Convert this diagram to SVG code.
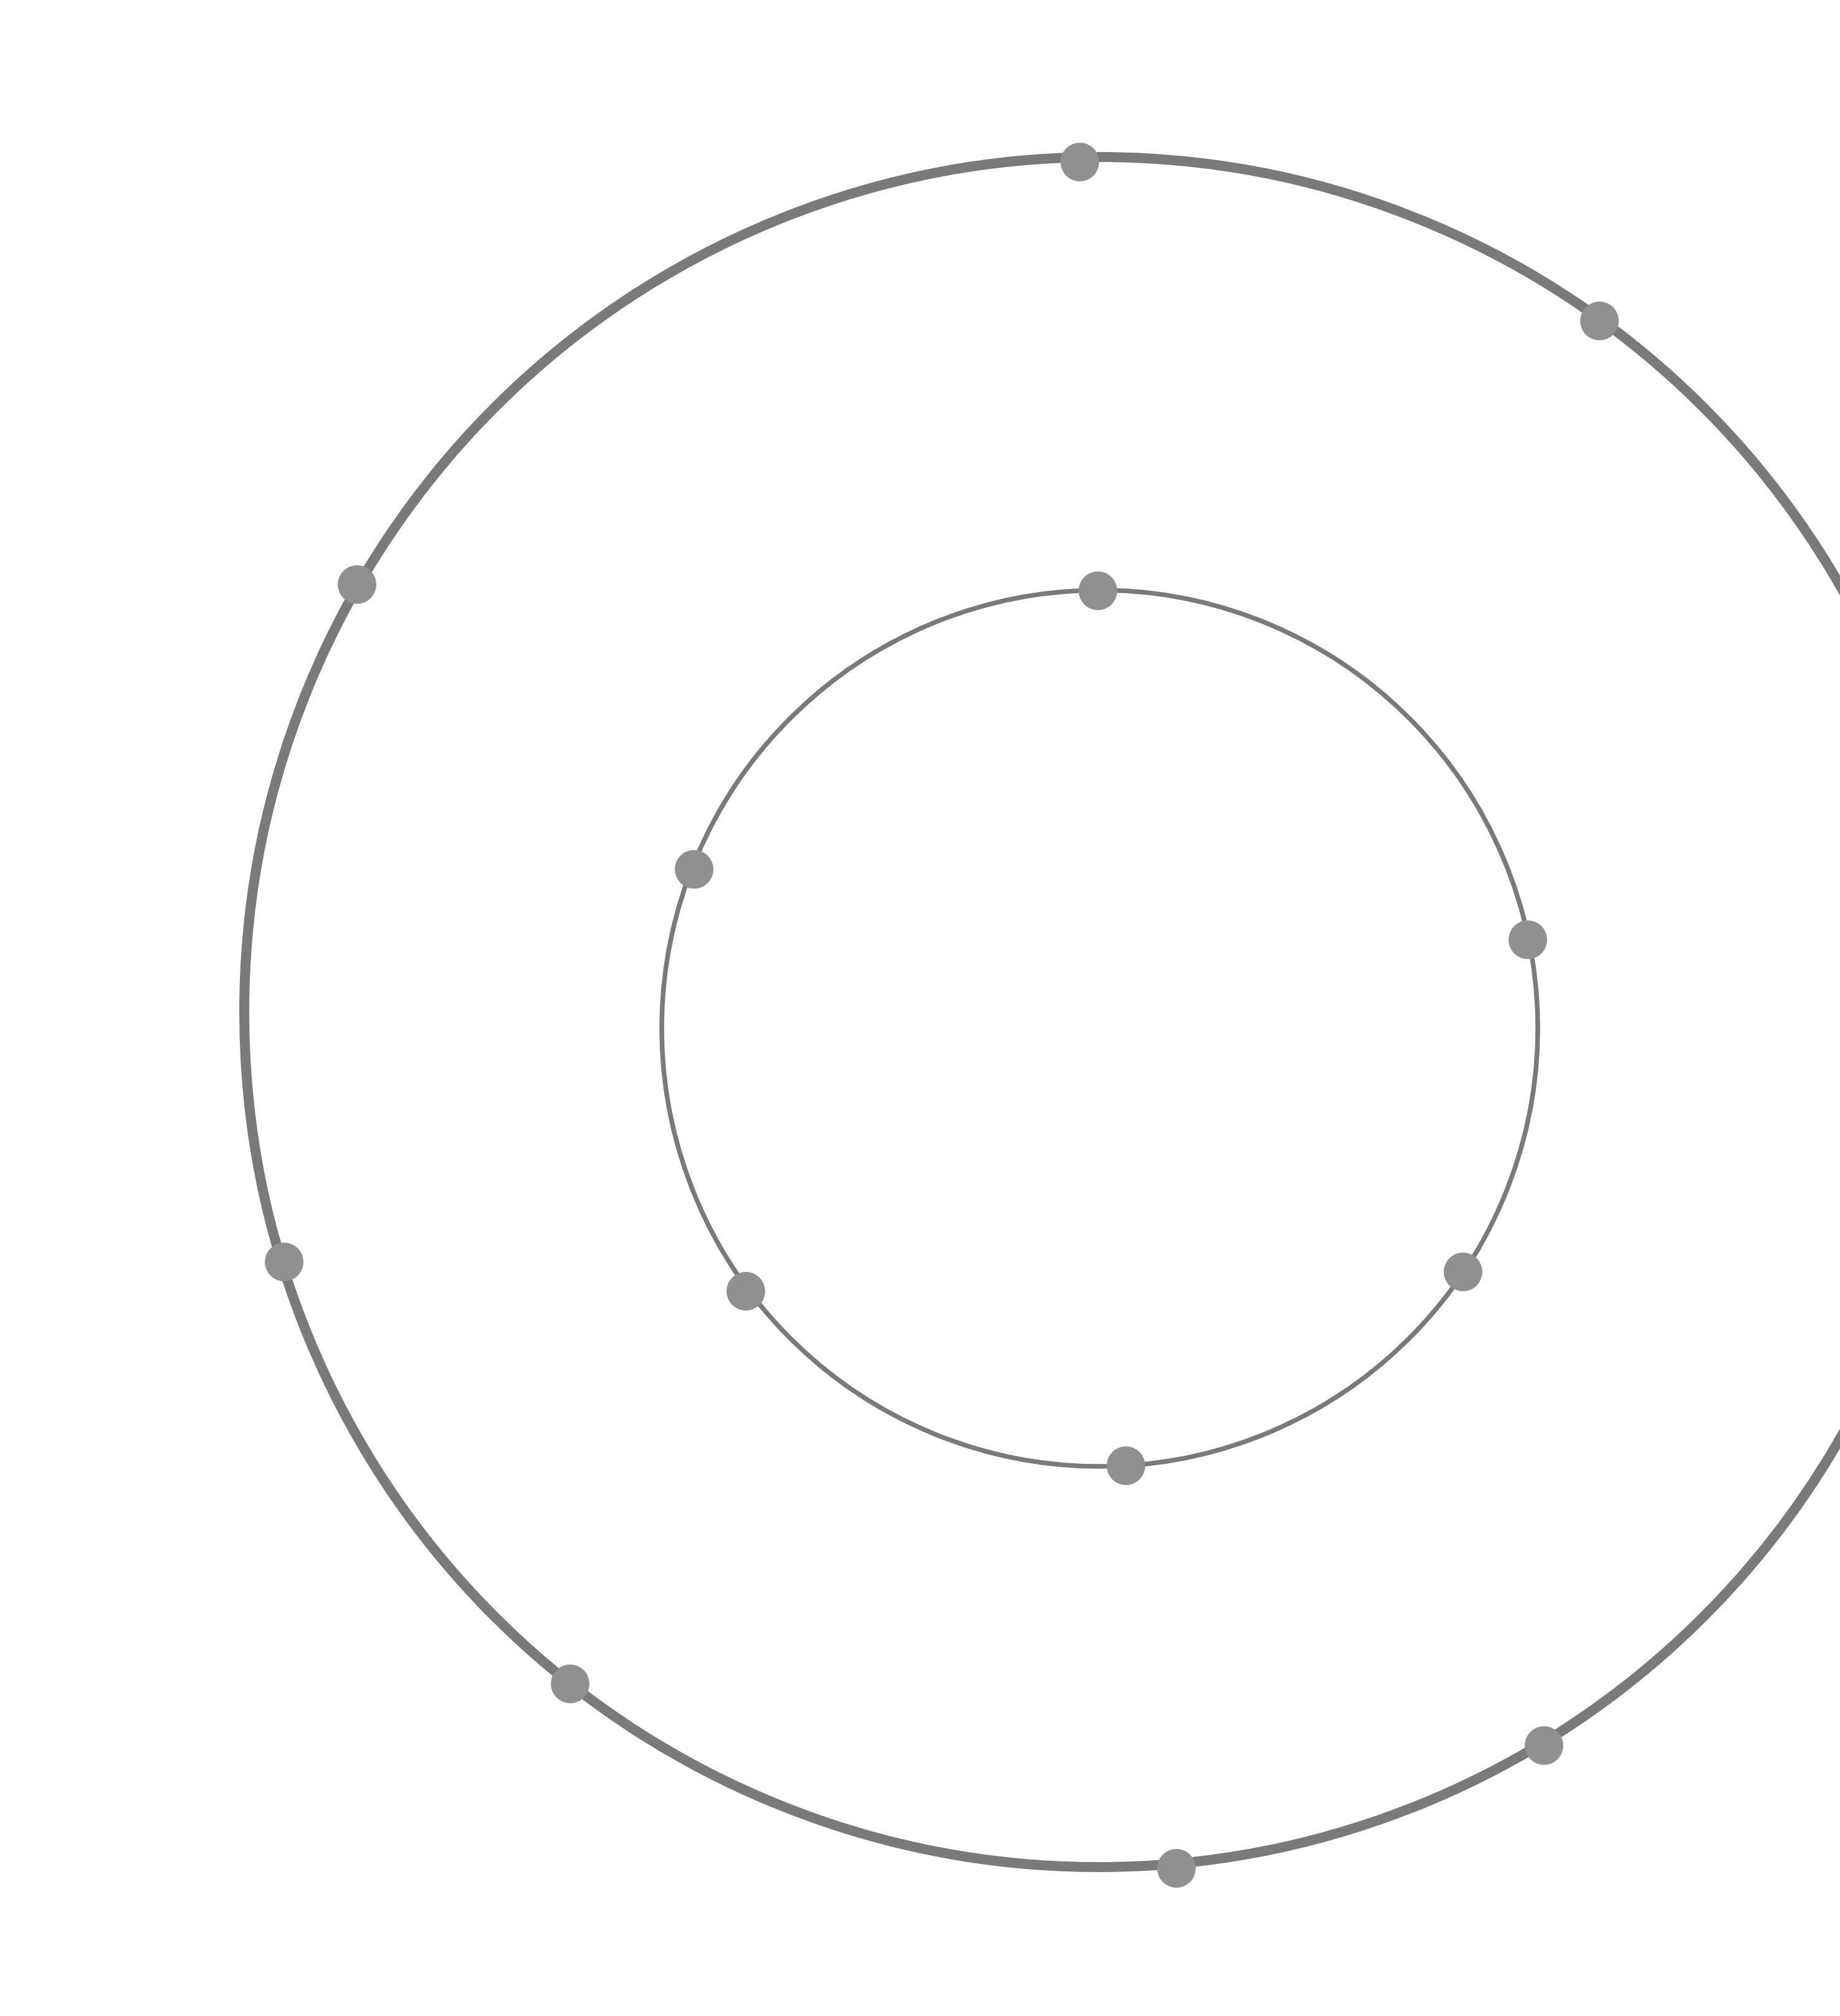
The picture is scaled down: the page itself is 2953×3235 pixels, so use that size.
<svg xmlns="http://www.w3.org/2000/svg" width="2953" height="3235" viewBox="0 0 2953 3235">
<style>
.ring{fill:none;stroke:#7a7a7a}
.dot{fill:#909090}
</style>
<rect width="2953" height="3235" fill="#ffffff"/>
<g id="connectors">
<circle id="outer-ring" class="ring" cx="1764" cy="1624" r="1372" stroke-width="16"/>
<circle id="inner-ring" class="ring" cx="1765" cy="1650" r="703" stroke-width="7.5"/>
</g>
<g id="o1"><circle class="dot" cx="1733" cy="260" r="31"/></g>
<g id="o2"><circle class="dot" cx="2567" cy="515" r="31"/></g>
<g id="o3"><circle class="dot" cx="573" cy="938" r="31"/></g>
<g id="o4"><circle class="dot" cx="456" cy="2025" r="31"/></g>
<g id="o5"><circle class="dot" cx="915" cy="2702" r="31"/></g>
<g id="o6"><circle class="dot" cx="2478" cy="2801" r="31"/></g>
<g id="o7"><circle class="dot" cx="1888" cy="2998" r="31"/></g>
<g id="i1"><circle class="dot" cx="1762" cy="948" r="31"/></g>
<g id="i2"><circle class="dot" cx="1114" cy="1395" r="31"/></g>
<g id="i3"><circle class="dot" cx="2452" cy="1508" r="31"/></g>
<g id="i4"><circle class="dot" cx="1197" cy="2072" r="31"/></g>
<g id="i5"><circle class="dot" cx="2348" cy="2041" r="31"/></g>
<g id="i6"><circle class="dot" cx="1807" cy="2352" r="31"/></g>
</svg>
